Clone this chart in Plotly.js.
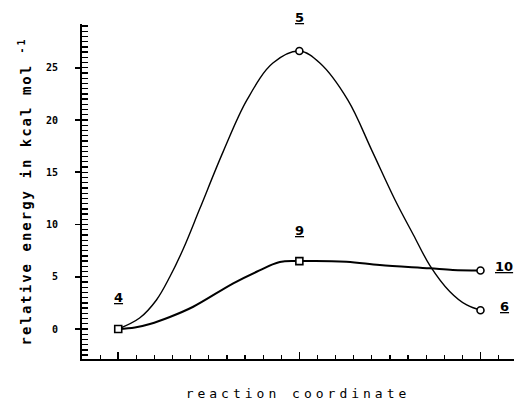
<!DOCTYPE html>
<html><head><meta charset="utf-8">
<script src="https://cdn.plot.ly/plotly-3.0.1.min.js"></script>
<style>html,body{margin:0;padding:0;background:#fff}</style>
</head><body><div id="chart" style="width:516px;height:405px"></div>
<script>
// Species (stationary points) on the reaction coordinate
const speciesNames = ['4', '5', '6', '9', '10'];
const speciesX = [2, 12, 22, 12, 22];
const speciesY = [0, 26.6, 1.8, 6.5, 5.6];

// Path 4 -> 5 -> 6
const upperX = [2, 3.18, 4.11, 4.85, 5.6, 6.5, 7.8, 9.1, 10.54, 12, 13.13, 14.68, 16.0, 17.27, 18.3, 19.2, 20.3, 21.24, 22];
const upperY = [0, 1.05, 2.78, 5.0, 7.7, 11.5, 17.0, 21.9, 25.45, 26.6, 25.45, 21.9, 17.1, 12.4, 9.0, 6.1, 3.6, 2.3, 1.8];

// Path 4 -> 9 -> 10
const lowerX = [2, 2.92, 3.75, 4.85, 6.14, 8.35, 9.64, 10.92, 12, 14.6, 16.44, 19.2, 20.47, 22];
const lowerY = [0, 0.14, 0.48, 1.15, 2.13, 4.37, 5.48, 6.41, 6.5, 6.44, 6.12, 5.81, 5.65, 5.6];

// y tick labels
const yTickVals = [0, 5, 10, 15, 20, 25];
const yTickText = ['0', '5', '10', '15', '20', '25'];

const markerSymbols = ['square', 'circle', 'circle', 'square', 'circle'];
const labelShift = [[0, 32], [0, 34], [24, 4], [0, 31], [24, 4]];

const traces = [
  {x: upperX, y: upperY, mode: 'lines', line: {color: '#000', width: 1.4, shape: 'spline', smoothing: 1}, hoverinfo: 'skip', showlegend: false},
  {x: lowerX, y: lowerY, mode: 'lines', line: {color: '#000', width: 2, shape: 'spline', smoothing: 1}, hoverinfo: 'skip', showlegend: false},
  {x: speciesX, y: speciesY, mode: 'markers', text: speciesNames,
   marker: {symbol: markerSymbols, size: 7, color: '#fff', line: {color: '#000', width: 1.6}}, showlegend: false},
  {x: [], y: [], yaxis: 'y2', mode: 'markers', showlegend: false, hoverinfo: 'skip'}
];

const annotations = speciesNames.map((n, i) => ({
  x: speciesX[i], y: speciesY[i], xref: 'x', yref: 'y',
  text: '<u>' + n + '</u>', showarrow: false,
  xshift: labelShift[i][0], yshift: labelShift[i][1],
  font: {family: 'DejaVu Sans', size: 13, color: '#000', weight: 'bold'}
}));

const layout = {
  width: 516, height: 405,
  margin: {l: 82, r: 2, t: 24, b: 46},
  paper_bgcolor: '#fff', plot_bgcolor: '#fff',
  showlegend: false,
  xaxis: {
    range: [0, 23.85], showgrid: false, zeroline: false,
    showline: true, linecolor: '#000', linewidth: 2,
    tickmode: 'array', tickvals: [2, 12, 22], showticklabels: false,
    ticks: 'inside', ticklen: 7, tickwidth: 1.5, tickcolor: '#000',
    minor: {tickmode: 'linear', tick0: 0, dtick: 1, ticks: 'inside', ticklen: 4, tickwidth: 1.2, tickcolor: '#000'},
    title: {text: '<span style="letter-spacing:4px">reaction coordinate</span>', standoff: 29,
            font: {family: 'DejaVu Sans Mono', size: 13, color: '#000'}}
  },
  yaxis: {
    range: [-2.87, 29.19], showgrid: false, zeroline: false,
    showline: true, linecolor: '#000', linewidth: 2,
    tickmode: 'array', tickvals: yTickVals, ticktext: yTickText,
    ticks: 'outside', ticklen: 5, tickwidth: 1.6, tickcolor: '#000',
    ticklabelstandoff: 15,
    tickfont: {family: 'DejaVu Sans Mono', size: 10, color: '#000', weight: 'bold'},
    title: {text: '<span style="letter-spacing:2px">relative energy in kcal mol <sup>-1</sup></span>', standoff: 11,
            font: {family: 'DejaVu Sans Mono', size: 14, color: '#000', weight: 'bold'}}
  },
  yaxis2: {
    overlaying: 'y', side: 'left', range: [-2.87, 29.19],
    showgrid: false, zeroline: false, showline: false,
    tickmode: 'linear', tick0: 0, dtick: 0.5, showticklabels: false,
    ticks: 'inside', ticklen: 6, tickwidth: 1.3, tickcolor: '#000'
  },
  annotations: annotations
};

Plotly.newPlot('chart', traces, layout, {displayModeBar: false, staticPlot: true});
</script>
</body></html>
